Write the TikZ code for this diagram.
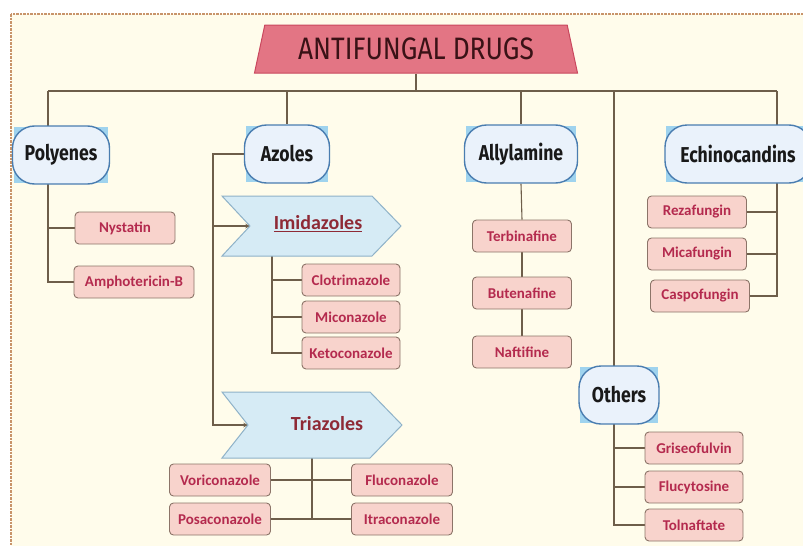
\documentclass[tikz,border=0pt]{standalone}
\usepackage{fontspec}
\setmainfont{Carlito}
\newfontfamily\catfont[FakeStretch=0.82]{Fira Sans}
\newfontfamily\titlefont[FakeStretch=0.85]{Fira Sans}
\usetikzlibrary{shapes,arrows,positioning,backgrounds}

\definecolor{bgcream}{HTML}{FFFCEB}
\definecolor{framec}{HTML}{C8946A}
\definecolor{titlefill}{HTML}{E37584}
\definecolor{titledraw}{HTML}{C9485E}
\definecolor{titletext}{HTML}{3A1216}
\definecolor{catfill}{HTML}{EAF2FB}
\definecolor{catdraw}{HTML}{4A7DB0}
\definecolor{hilite}{HTML}{9FD3EE}
\definecolor{drugfill}{HTML}{F8D3CC}
\definecolor{drugdraw}{HTML}{8C7468}
\definecolor{drugtext}{HTML}{B42A4E}
\definecolor{chevfill}{HTML}{D6EBF5}
\definecolor{chevdraw}{HTML}{8FB2C8}
\definecolor{chevtext}{HTML}{8E2A36}
\definecolor{linec}{HTML}{6E5E4A}

\tikzset{
  catnode/.style={draw=catdraw, fill=catfill, line width=1.4pt, rounded corners=22pt,
    minimum height=58pt, inner sep=0pt, text=black!90,
    font=\catfont\bfseries\fontsize{21.5}{25}\selectfont},
  drug/.style={draw=drugdraw, fill=drugfill, line width=0.9pt, rounded corners=4pt,
    minimum height=32pt, inner sep=0pt, text=drugtext,
    font=\bfseries\fontsize{15}{18}\selectfont},
  chev/.style={draw=chevdraw, fill=chevfill, line width=1pt},
  chevlabel/.style={text=chevtext, inner sep=1pt, font=\bfseries\fontsize{20}{23}\selectfont},
  link/.style={draw=linec, line width=1.1pt},
  >=stealth
}

\begin{document}
\begin{tikzpicture}[x=1pt,y=-1pt]
\useasboundingbox (0,0) rectangle (803,546);

% Title
\node[trapezium, trapezium left angle=65, trapezium right angle=65, trapezium stretches body,
  minimum width=323pt, minimum height=48pt, inner sep=0pt, fill=titlefill, draw=titledraw,
  line width=1pt, text=titletext, font=\titlefont\fontsize{31}{34}\selectfont]
  (title) at (416,49) {ANTIFUNGAL DRUGS};

% Groups
\node[catnode, minimum width=97pt] (poly) at (61,155) {Polyenes};
\node[catnode, minimum width=85pt] (azol) at (287,154) {Azoles};
\node[catnode, minimum width=113pt] (ally) at (521,154) {Allylamine};
\node[catnode, minimum width=146pt] (echi) at (738,154) {Echinocandins};
\node[catnode, minimum width=80pt] (othr) at (619,395) {Others};

% Polyenes
\node[drug, minimum width=100pt] (nyst) at (125,228) {Nystatin};
\node[drug, minimum width=120pt] (amph) at (134,282) {Amphotericin-B};

% Azoles: imidazoles and triazoles
\draw[chev] (222,196) -- (372,196) -- (401,226) -- (372,256) -- (222,256) -- (250,226) -- cycle;
\node[chevlabel] (imid) at (318,224) {\underline{Imidazoles}};
\coordinate (imnotch) at (250,226);
\draw[chev] (222,392) -- (370,392) -- (402,425) -- (370,458) -- (222,458) -- (248,425) -- cycle;
\node[chevlabel] (tria) at (327,424) {Triazoles};
\coordinate (trnotch) at (248,425);

\node[drug, minimum width=98pt] (clot) at (351,280) {Clotrimazole};
\node[drug, minimum width=98pt] (mico) at (351,317) {Miconazole};
\node[drug, minimum width=98pt] (keto) at (351,353) {Ketoconazole};

\node[drug, minimum width=101pt] (vori) at (220,480) {Voriconazole};
\node[drug, minimum width=101pt] (posa) at (220,519) {Posaconazole};
\node[drug, minimum width=101pt] (fluc) at (402,480) {Fluconazole};
\node[drug, minimum width=101pt] (itra) at (402,519) {Itraconazole};

% Allylamine
\node[drug, minimum width=99pt] (terb) at (522,236) {Terbinafine};
\node[drug, minimum width=99pt] (bute) at (522,293) {Butenafine};
\node[drug, minimum width=99pt] (naft) at (522,352) {Naftifine};

% Echinocandins
\node[drug, minimum width=99pt] (reza) at (697,212) {Rezafungin};
\node[drug, minimum width=99pt] (mica) at (697,254) {Micafungin};
\node[drug, minimum width=99pt] (casp) at (700,296) {Caspofungin};

% Others
\node[drug, minimum width=98pt] (gris) at (694,448) {Griseofulvin};
\node[drug, minimum width=98pt] (flcy) at (694,487) {Flucytosine};
\node[drug, minimum width=98pt] (toln) at (694,525) {Tolnaftate};

\begin{scope}[on background layer]
% Page
\fill[bgcream] (11,14) rectangle (820,560);
\draw[framec, line width=2pt, dash pattern=on 2.5pt off 1pt] (11,14) rectangle (820,560);
\foreach \n in {poly,azol,ally,echi,othr}
  \fill[hilite] ([shift={(2,1.5)}]\n.north west) rectangle ([shift={(-2,-1.5)}]\n.south east);

% Bus
\coordinate (busL) at (48,91);
\coordinate (busR) at (777,91);
\coordinate (othx) at (614,91);
\draw[link] (busL) -- (busR);
\draw[link] (title.south) -- (title.south |- busL);

% Polyenes links
\draw[link] (busL) -- (busL |- amph) -- (amph.west);
\draw[link] (busL |- nyst) -- (nyst.west);

% Azoles links
\draw[link] (azol.north |- busL) -- (azol.north);
\coordinate (azbend) at (213,154);
\draw[link,->] (azol.west) -- (azbend) |- (trnotch);
\draw[link,->] (azbend |- imnotch) -- (imnotch);
\coordinate (imstem) at (272,256);
\draw[link] (imstem) -- (imstem |- keto) -- (keto.west);
\draw[link] (imstem |- clot) -- (clot.west);
\draw[link] (imstem |- mico) -- (mico.west);
\coordinate (trstem) at (312,458);
\draw[link] (trstem) -- (trstem |- posa);
\draw[link] (vori.east) -- (fluc.west);
\draw[link] (posa.east) -- (itra.west);

% Allylamine links
\draw[link] (ally.north |- busL) -- (ally.north);
\draw[link] (ally.south) -- (terb.north);
\draw[link] (terb.south) -- (bute.north);
\draw[link] (bute.south) -- (naft.north);

% Echinocandins links
\draw[link] (busR) -- (busR |- casp) -- (casp.east);
\draw[link] (busR |- reza) -- (reza.east);
\draw[link] (busR |- mica) -- (mica.east);

% Others links
\draw[link] (othx) -- (othx |- toln) -- (toln.west);
\draw[link] (othx |- gris) -- (gris.west);
\draw[link] (othx |- flcy) -- (flcy.west);
\end{scope}
\end{tikzpicture}
\end{document}
